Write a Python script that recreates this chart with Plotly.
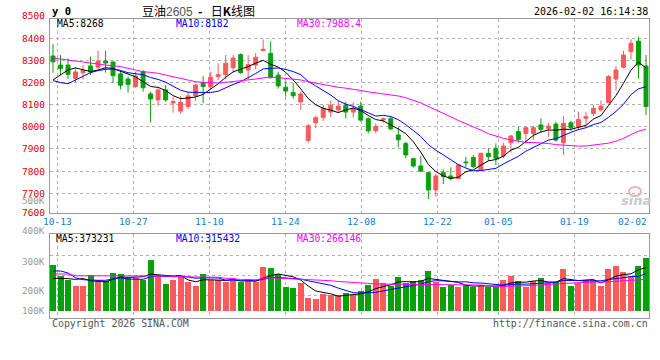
import plotly.graph_objects as go

# ---------------- data ----------------
tick_labels = ["10-13", "10-27", "11-10", "11-24", "12-08", "12-22", "01-05", "01-19", "02-02"]
tick_index = [1, 11, 21, 31, 41, 51, 59, 69, 79]

open_ = [8319, 8278, 8278, 8217, 8244, 8274, 8268, 8296, 8292, 8238,
         8215, 8181, 8248, 8148, 8121, 8166, 8107, 8071, 8091, 8139,
         8199, 8181, 8226, 8235, 8266, 8325, 8256, 8278, 8343, 8331,
         8233, 8178, 8154, 8112, 7938, 8018, 8042, 8066, 8076, 8097,
         8066, 8093, 8036, 7982, 8031, 8036, 7963, 7925, 7856, 7823,
         7793, 7715, 7793, 7778, 7767, 7841, 7861, 7805, 7880, 7903,
         7868, 7928, 7978, 7970, 7970, 8008, 7991, 8012, 7928, 8018,
         8000, 8038, 8060, 8076, 8109, 8215, 8268, 8338, 8386, 8274]
high = [8373, 8323, 8308, 8268, 8278, 8316, 8343, 8343, 8293, 8253,
        8226, 8248, 8256, 8158, 8173, 8188, 8136, 8139, 8158, 8191,
        8229, 8248, 8286, 8323, 8323, 8331, 8323, 8331, 8394, 8385,
        8248, 8203, 8196, 8158, 8011, 8050, 8098, 8118, 8118, 8113,
        8109, 8113, 8042, 8015, 8042, 8048, 7997, 7931, 7861, 7868,
        7797, 7787, 7808, 7817, 7831, 7865, 7873, 7883, 7903, 7925,
        7928, 7963, 8000, 8000, 8005, 8038, 8018, 8023, 8048, 8027,
        8068, 8068, 8098, 8118, 8233, 8274, 8343, 8394, 8406, 8323]
low = [8244, 8233, 8215, 8199, 8214, 8233, 8259, 8244, 8196, 8169,
       8154, 8175, 8158, 8019, 8094, 8113, 8064, 8058, 8079, 8116,
       8106, 8169, 8211, 8214, 8244, 8238, 8214, 8259, 8343, 8218,
       8172, 8136, 8127, 8076, 7928, 7993, 8027, 8045, 8064, 8038,
       8042, 8023, 7970, 7970, 8018, 7985, 7907, 7858, 7816, 7797,
       7674, 7685, 7742, 7757, 7764, 7817, 7813, 7802, 7847, 7828,
       7858, 7883, 7928, 7925, 7940, 7973, 7955, 7933, 7873, 7982,
       7985, 8008, 8048, 8068, 8106, 8163, 8263, 8304, 8218, 8053]
close = [8293, 8262, 8236, 8247, 8253, 8247, 8296, 8287, 8230, 8187,
         8191, 8229, 8176, 8125, 8166, 8121, 8113, 8109, 8139, 8188,
         8181, 8224, 8235, 8286, 8310, 8244, 8280, 8313, 8349, 8221,
         8184, 8161, 8140, 8148, 8005, 8041, 8083, 8097, 8093, 8066,
         8082, 8030, 7982, 8002, 8036, 7990, 7941, 7873, 7823, 7800,
         7715, 7778, 7775, 7767, 7828, 7838, 7820, 7880, 7865, 7858,
         7913, 7958, 7943, 7996, 7996, 7988, 8003, 7940, 8015, 7997,
         8033, 8045, 8083, 8093, 8226, 8256, 8323, 8376, 8278, 8091]
volume = [395500, 300900, 266500, 215000, 215000, 303500, 266500, 251900, 326700, 318100,
          281200, 281200, 266500, 438500, 294900, 232100, 266500, 292300, 249300, 215000,
          318100, 266500, 266500, 249300, 257900, 249300, 275100, 249300, 378300, 369700,
          318100, 206400, 197800, 240700, 111800, 103200, 146200, 137600, 137600, 154800,
          137600, 172000, 223500, 275100, 240700, 215000, 292300, 240700, 257900, 266500,
          343900, 249300, 206400, 223500, 206400, 223500, 206400, 223500, 206400, 206400,
          266500, 300900, 257900, 206400, 257900, 283700, 240700, 249300, 361100, 215000,
          240700, 266500, 266500, 215000, 361100, 386900, 335300, 300900, 386900, 455700]

# averages for the first days (their history lies left of the chart)
ma5_head = [8211, 8232, 8256, 8265]
ma10_head = [8208, 8199, 8194, 8211, 8230, 8244, 8253, 8259, 8260]
ma30_head = [8310, 8305, 8301, 8296, 8292, 8287, 8283, 8278, 8275, 8271,
             8263, 8256, 8248, 8245, 8241, 8233, 8226, 8218, 8211, 8203,
             8200, 8197, 8197, 8200, 8203, 8206, 8211, 8215, 8220]
vol_ma5_head = [281000, 281000, 278000, 272000]
vol_ma10_head = [344000, 344000, 327000, 286000, 269000, 264000, 264000, 264000, 272000]
vol_ma30_head = [318000, 318000, 318000, 303000, 303000, 303000, 303000, 303000, 303000, 307000,
                 307000, 307000, 307000, 301000, 301000, 301000, 295000, 295000, 295000, 290000,
                 290000, 290000, 290000, 281000, 281000, 269000, 269000, 269000, 278000]

price_ticks = [8500, 8400, 8300, 8200, 8100, 8000, 7900, 7800, 7700, 7600]
vol_tick_labels = ["500K", "400K", "300K", "200K", "100K"]

title_code = "y 0"
title_name = "豆油"
title_contract = "2605"
title_kind = "日<b>K</b>线图"
timestamp = "2026-02-02 16:14:38"
price_ma_labels = ["MA5:8268", "MA10:8182", "MA30:7988.4"]
vol_ma_labels = ["MA5:373231", "MA10:315432", "MA30:266146"]
copyright_text = "Copyright 2026 SINA.COM"
url_text = "http://finance.sina.com.cn"


def moving_avg(vals, n, head):
    out = list(head)
    for i in range(len(head), len(vals)):
        out.append(sum(vals[i - n + 1:i + 1]) / n)
    return out


ma5 = moving_avg(close, 5, ma5_head)
ma10 = moving_avg(close, 10, ma10_head)
ma30 = moving_avg(close, 30, ma30_head)
vma5 = moving_avg(volume, 5, vol_ma5_head)
vma10 = moving_avg(volume, 10, vol_ma10_head)
vma30 = moving_avg(volume, 30, vol_ma30_head)

# ---------------- styling / layout ----------------
W, H = 660, 360
UP = "#fa5a5a"
DOWN = "#0aa00a"
MA_COLORS = ["#000000", "#0000ff", "#ff00ff"]
MONO = "DejaVu Sans Mono"
GRID = "#b0b0b0"
BORDER = "#999999"

Y_RANGE = [7611.2, 8484.3]
Y_TOP_PX, Y_BOT_PX = 19.3, 213.0


def px(xp):
    return xp / W


def py(yp):
    return 1 - yp / H


def price_to_px(p):
    return Y_TOP_PX + (Y_RANGE[1] - p) * (Y_BOT_PX - Y_TOP_PX) / (Y_RANGE[1] - Y_RANGE[0])


x = list(range(len(close)))
X_RANGE = [-0.4, 79.4]
grid_x = [0.573 + (i - 1) * 1.0125 for i in tick_index]

fig = go.Figure()
fig.add_trace(go.Candlestick(
    x=x, open=open_, high=high, low=low, close=close,
    increasing=dict(line=dict(color=UP, width=1), fillcolor=UP),
    decreasing=dict(line=dict(color=DOWN, width=1), fillcolor=DOWN),
    whiskerwidth=0, xaxis="x", yaxis="y", hoverinfo="skip", showlegend=False))
for series, col in zip([ma5, ma10, ma30], MA_COLORS):
    fig.add_trace(go.Scatter(x=x, y=series, mode="lines", line=dict(color=col, width=1),
                             xaxis="x", yaxis="y", hoverinfo="skip", showlegend=False))

fig.add_trace(go.Bar(
    x=x, y=volume, width=0.8,
    marker=dict(color=[UP if c >= o else DOWN for o, c in zip(open_, close)], line=dict(width=0)),
    xaxis="x2", yaxis="y2", hoverinfo="skip", showlegend=False))
for series, col in zip([vma5, vma10, vma30], MA_COLORS):
    fig.add_trace(go.Scatter(x=x, y=series, mode="lines", line=dict(color=col, width=1),
                             xaxis="x2", yaxis="y2", hoverinfo="skip", showlegend=False))

axis_common = dict(showgrid=True, gridcolor=GRID, griddash="dot", gridwidth=1,
                   showline=True, linecolor=BORDER, linewidth=1, mirror=True,
                   zeroline=False, ticks="", showticklabels=False, fixedrange=True)

fig.update_layout(
    width=W, height=H, margin=dict(l=0, r=0, t=0, b=0),
    paper_bgcolor="white", plot_bgcolor="white",
    boxgap=0.25, bargap=0,
    xaxis=dict(domain=[px(50), px(649)], range=X_RANGE, tickvals=grid_x,
               rangeslider=dict(visible=False), anchor="y", **axis_common),
    yaxis=dict(domain=[py(Y_BOT_PX), py(Y_TOP_PX)], range=Y_RANGE,
               tickvals=[p for p in price_ticks if Y_RANGE[0] < p < Y_RANGE[1]],
               anchor="x", **axis_common),
    xaxis2=dict(domain=[px(50), px(649)], range=X_RANGE, tickvals=grid_x, anchor="y2",
                matches="x", **axis_common),
    yaxis2=dict(domain=[py(318.3), py(234.3)], range=[-62800, 659500],
                tickvals=[135000, 307000, 479000], anchor="x2", **axis_common),
)

ann = []
# price axis labels (the lowest one sits on the bottom border, as in the source)
for p in price_ticks:
    yp = min(price_to_px(p), 212.7)
    ann.append(dict(text=str(p), x=px(46.5), xref="paper", y=py(yp), yref="paper",
                    xanchor="right", yanchor="middle", showarrow=False,
                    font=dict(family=MONO, size=9.5, color="#e00000")))
# volume axis labels (positions as drawn by the source)
for t, yp in zip(vol_tick_labels, [200.3, 230.5, 261, 290, 310.5]):
    ann.append(dict(text=t, x=px(46.5), xref="paper", y=py(yp), yref="paper",
                    xanchor="right", yanchor="middle", showarrow=False,
                    font=dict(family=MONO, size=9.3, color="#999999")))
# date labels
for t, g in zip(tick_labels, grid_x):
    if g > X_RANGE[1] - 2:
        ann.append(dict(text=t, x=X_RANGE[1], xref="x", y=py(221.5), yref="paper",
                        xanchor="right", yanchor="middle", showarrow=False,
                        font=dict(family=MONO, size=9.5, color="#0a80d0")))
    else:
        ann.append(dict(text=t, x=g, xref="x", y=py(221.5), yref="paper",
                        xanchor="center", yanchor="middle", showarrow=False,
                        font=dict(family=MONO, size=9.5, color="#0a80d0")))
# MA labels
for t, xp, col in zip(price_ma_labels, [55, 174.3, 294.7], MA_COLORS):
    ann.append(dict(text=t, x=px(xp), xref="paper", y=py(23.7), yref="paper",
                    xanchor="left", yanchor="middle", showarrow=False,
                    font=dict(family=MONO, size=9.7, color=col)))
for t, xp, col in zip(vol_ma_labels, [54.3, 174.3, 294.7], MA_COLORS):
    ann.append(dict(text=t, x=px(xp), xref="paper", y=py(238.5), yref="paper",
                    xanchor="left", yanchor="middle", showarrow=False,
                    font=dict(family=MONO, size=9.7, color=col)))
# header
ann.append(dict(text="<b>" + title_code + "</b>", x=px(49.5), xref="paper", y=py(11), yref="paper",
                xanchor="left", yanchor="middle", showarrow=False,
                font=dict(family=MONO, size=10.5, color="black")))
ann.append(dict(text=title_name + "<span style='color:#555555;font-family:Liberation Sans;font-size:12px'>"
                + title_contract + "</span>&nbsp;&nbsp;<b>-</b>&nbsp;&nbsp;&nbsp;" + title_kind,
                x=px(140), xref="paper", y=py(10.5), yref="paper",
                xanchor="left", yanchor="middle", showarrow=False,
                font=dict(family="Noto Sans CJK SC", size=12, color="black")))
ann.append(dict(text=timestamp, x=px(649.5), xref="paper", y=py(11.5), yref="paper",
                xanchor="right", yanchor="middle", showarrow=False,
                font=dict(family=MONO, size=10, color="black")))
# footer
ann.append(dict(text=copyright_text, x=px(49.5), xref="paper", y=py(323.7), yref="paper",
                xanchor="left", yanchor="middle", showarrow=False,
                font=dict(family=MONO, size=9.9, color="#555555")))
ann.append(dict(text=url_text, x=px(649.5), xref="paper", y=py(323.7), yref="paper",
                xanchor="right", yanchor="middle", showarrow=False,
                font=dict(family=MONO, size=9.9, color="#555555")))
# sina watermark
ann.append(dict(text="<b><i>sina</i></b>", x=px(636), xref="paper", y=py(200), yref="paper",
                xanchor="center", yanchor="middle", showarrow=False,
                font=dict(family="DejaVu Sans", size=13, color="#c8c8c8")))
fig.update_layout(annotations=ann)
fig.add_shape(type="circle", xref="paper", yref="paper",
              x0=px(629), x1=px(641), y0=py(196), y1=py(187),
              line=dict(color="#f2b0b0", width=2), fillcolor="rgba(0,0,0,0)")

fig.write_html("out.html", config={"displayModeBar": False},
               post_script="document.body.style.margin='0';document.body.style.padding='0';")
